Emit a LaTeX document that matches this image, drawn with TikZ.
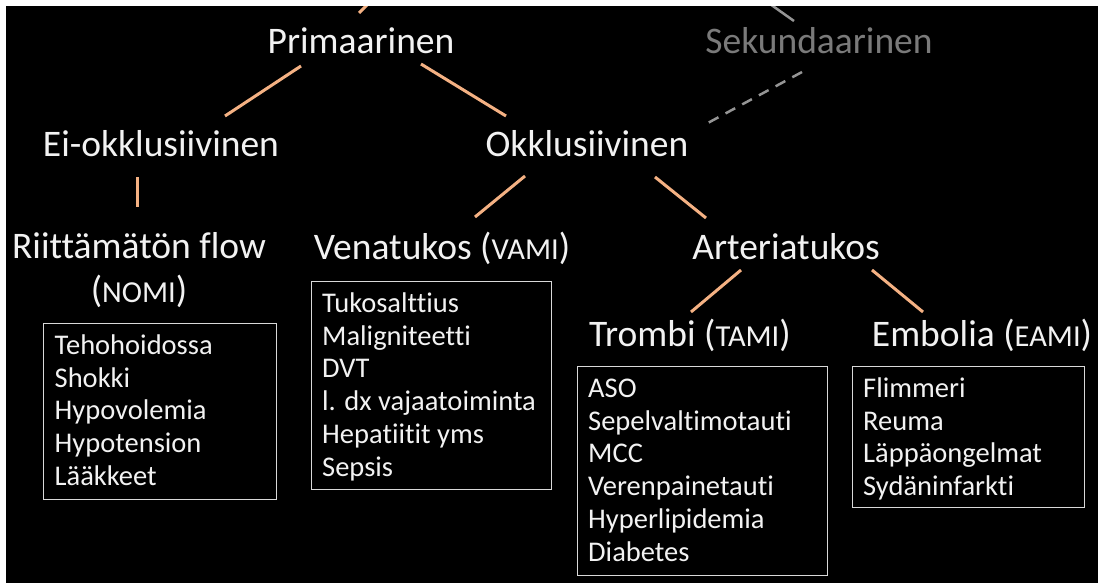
\documentclass[tikz,border=0pt]{standalone}
\usepackage{fontspec}
\setmainfont[Ligatures=NoCommon]{Carlito}
\usetikzlibrary{calc}
\definecolor{lineor}{HTML}{F4B183}
\definecolor{txtw}{HTML}{F2F2F2}
\definecolor{txtg}{HTML}{7A7A7A}
\definecolor{boxc}{HTML}{D9D9D9}
\begin{document}
\begin{tikzpicture}[x=1pt,y=-1pt,
  big/.style={text=txtw,font=\fontsize{37.5}{44}\selectfont,inner sep=0pt,anchor=base},
  boxst/.style={draw=boxc,line width=1.2pt,anchor=north west,inner sep=0pt},
  lst/.style={text=txtw,font=\fontsize{28.5}{32.8}\selectfont,
     align=left,anchor=north west,inner sep=0pt},
  conn/.style={draw=lineor,line width=3pt},
  gconn/.style={draw=txtg!80,line width=2.5pt}]
\newcommand{\abbr}[1]{(\begingroup\fontsize{30.5}{36}\selectfont #1\endgroup)}
\useasboundingbox (0,0) rectangle (1103,586);
\fill[white] (0,0) rectangle (1103,586);
\fill[black] (6,6.5) rectangle (1098,583);
\begin{scope}
\clip (6,6.5) rectangle (1098,583);
% top stubs
\coordinate (pt1) at (359,13);
\coordinate (pt2) at (369,3);
\draw[conn] (pt1) -- (pt2);
\coordinate (st1) at (770,4);
\coordinate (st2) at (794,21);
\draw[gconn] (st1) -- (st2);
\end{scope}
% nodes
\node[big] (prim) at (361,54) {Primaarinen};
\node[big,text=txtg] (sek) at (819,54) {Sekundaarinen};
\node[big] (eiok) at (161,156) {Ei-okklusiivinen};
\node[big] (okk) at (587,156) {Okklusiivinen};
\node[big] (riit) at (139,258) {Riittämätön flow};
\node[big] (nomi) at (139,302) {\abbr{NOMI}};
\node[big] (vena) at (442,259) {Venatukos \abbr{VAMI}};
\node[big] (art) at (786,259) {Arteriatukos};
\node[big] (tromb) at (690,346) {Trombi \abbr{TAMI}};
\node[big] (embo) at (982,346) {Embolia \abbr{EAMI}};
% boxes
\node[boxst,minimum width=233pt,minimum height=176pt] (b1) at (43,322.5) {};
\node[boxst,minimum width=240pt,minimum height=208pt] (b2) at (311,280.5) {};
\node[boxst,minimum width=250pt,minimum height=209pt] (b3) at (577,365.5) {};
\node[boxst,minimum width=232pt,minimum height=141pt] (b4) at (852,365.5) {};
\node[lst] (t1) at ($(b1.north west)+(11.5,2.5)$)
  {\rule{0pt}{29pt}Tehohoidossa\\Shokki\\Hypovolemia\\Hypotension\\Lääkkeet};
\node[lst] (t2) at ($(b2.north west)+(11,2.5)$)
  {\rule{0pt}{29pt}Tukosalttius\\Maligniteetti\\DVT\\l. dx vajaatoiminta\\Hepatiitit yms\\Sepsis};
\node[lst] (t3) at ($(b3.north west)+(11,2.5)$)
  {\rule{0pt}{29pt}ASO\\Sepelvaltimotauti\\MCC\\Verenpainetauti\\Hyperlipidemia\\Diabetes};
\node[lst] (t4) at ($(b4.north west)+(11,2.5)$)
  {\rule{0pt}{29pt}Flimmeri\\Reuma\\Läppäongelmat\\Sydäninfarkti};
% connector end points
\coordinate (a1) at (301,66);  \coordinate (a2) at (225,116);
\coordinate (c1) at (421,64);  \coordinate (c2) at (506,116);
\coordinate (d1) at (802,72);  \coordinate (d2) at (706,124);
\coordinate (e1) at (137,177); \coordinate (e2) at (137,207);
\coordinate (f1) at (525,176); \coordinate (f2) at (475,217);
\coordinate (g1) at (655,177); \coordinate (g2) at (706,218);
\coordinate (h1) at (741,270); \coordinate (h2) at (691,312);
\coordinate (k1) at (872,270); \coordinate (k2) at (923,312);
\draw[conn] (a1) -- (a2);
\draw[conn] (c1) -- (c2);
\draw[gconn,dash pattern=on 11pt off 8pt] (d1) -- (d2);
\draw[conn] (e1) -- (e2);
\draw[conn] (f1) -- (f2);
\draw[conn] (g1) -- (g2);
\draw[conn] (h1) -- (h2);
\draw[conn] (k1) -- (k2);
\end{tikzpicture}
\end{document}
